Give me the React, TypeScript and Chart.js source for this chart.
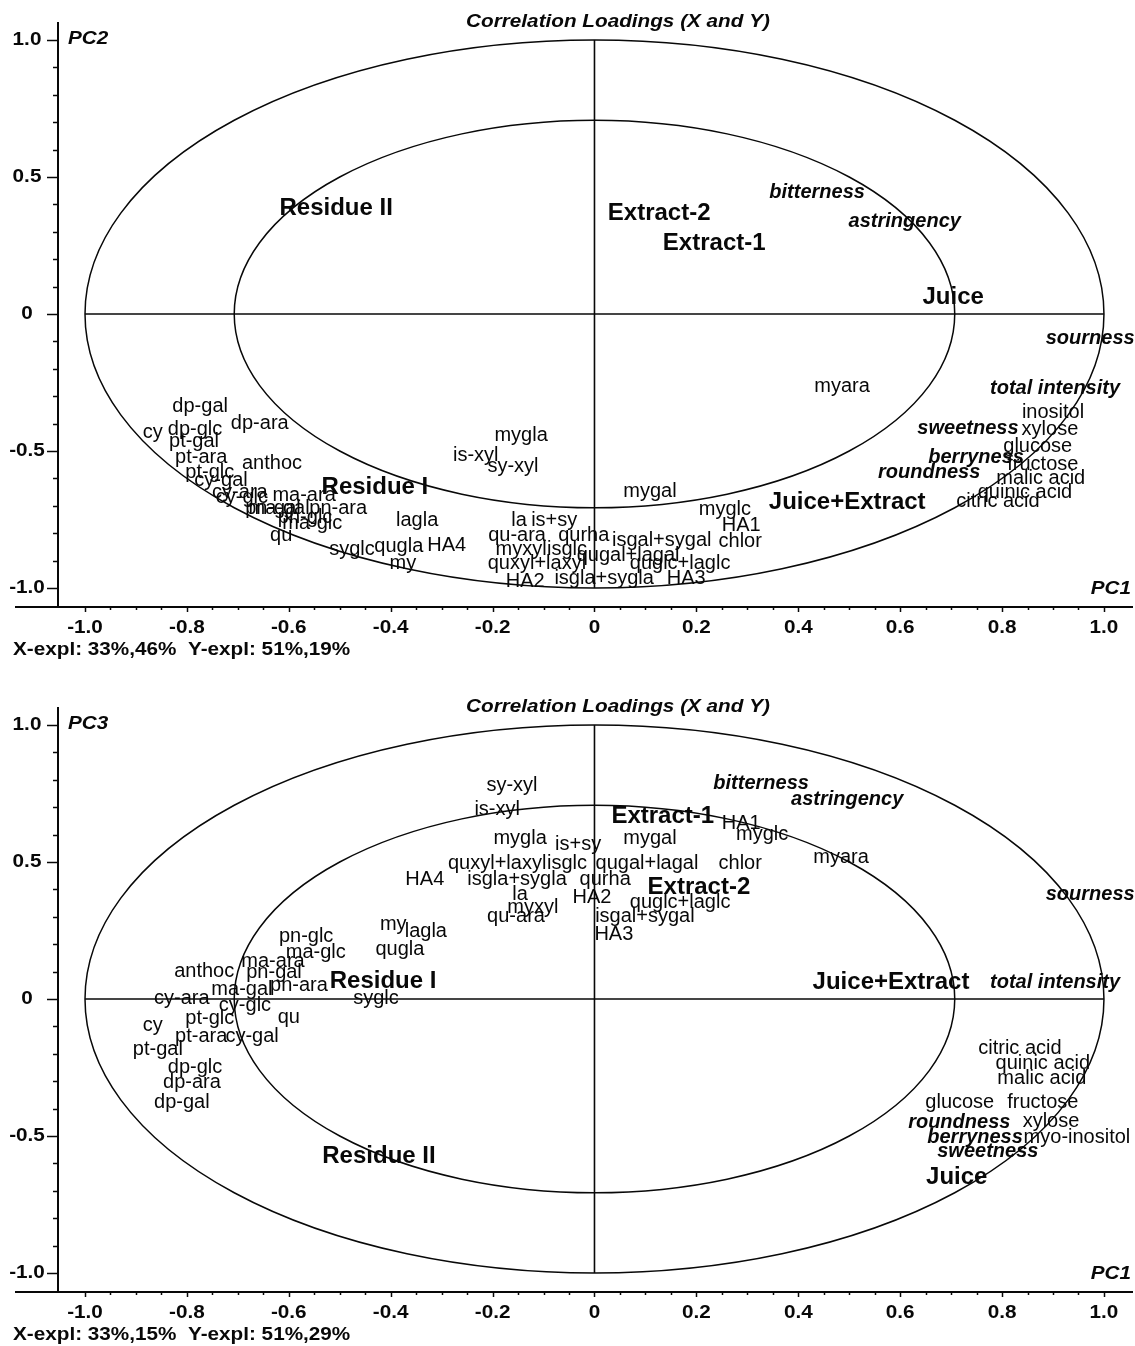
import React, { useEffect, useRef } from "react";
import { Chart, registerables } from "chart.js";

Chart.register(...registerables);

const FONT = '"Liberation Sans", Arial, Helvetica, sans-serif';
const INK = "#080808";

// ---------- Panel 1 (PC1 vs PC2) ----------
const p1VarLabels = [
  "myara", "inositol", "xylose", "glucose", "fructose", "malic acid", "quinic acid", "citric acid",
  "mygla", "is-xyl", "sy-xyl", "mygal", "myglc", "HA1", "chlor", "la", "is+sy", "qu-ara", "qurha",
  "isgal+sygal", "myxyl", "isglc", "qugal+lagal", "quxyl+laxyl", "quglc+laglc", "HA2", "isgla+sygla", "HA3",
  "dp-gal", "dp-ara", "cy", "dp-glc", "pt-gal", "pt-ara", "anthoc", "pt-glc", "cy-gal", "cy-ara", "cy-glc",
  "ma-ara", "pn-gal", "ma-gal", "pn-ara", "pn-glc", "ma-glc", "qu", "lagla", "syglc", "qugla", "HA4", "my",
];
const p1VarX = [
  0.486, 0.900, 0.894, 0.870, 0.880, 0.876, 0.845, 0.792,
  -0.144, -0.233, -0.160, 0.109, 0.256, 0.288, 0.286, -0.148, -0.079, -0.152, -0.021,
  0.132, -0.144, -0.054, 0.066, -0.113, 0.168, -0.136, 0.019, 0.180,
  -0.774, -0.657, -0.867, -0.784, -0.786, -0.772, -0.633, -0.755, -0.733, -0.696, -0.692,
  -0.570, -0.631, -0.619, -0.503, -0.568, -0.554, -0.615, -0.348, -0.476, -0.384, -0.290, -0.376,
];
const p1VarY = [
  -0.263, -0.361, -0.423, -0.485, -0.551, -0.599, -0.650, -0.686,
  -0.445, -0.515, -0.558, -0.646, -0.715, -0.770, -0.832, -0.752, -0.752, -0.810, -0.810,
  -0.828, -0.861, -0.861, -0.880, -0.912, -0.912, -0.978, -0.964, -0.964,
  -0.339, -0.398, -0.434, -0.423, -0.467, -0.522, -0.544, -0.577, -0.606, -0.653, -0.668,
  -0.664, -0.708, -0.708, -0.708, -0.741, -0.766, -0.807, -0.755, -0.861, -0.850, -0.843, -0.909,
];
const p1SensLabels = ["bitterness", "astringency", "sourness", "total intensity", "sweetness", "berryness", "roundness"];
const p1SensX = [0.437, 0.609, 0.973, 0.904, 0.733, 0.749, 0.657];
const p1SensY = [0.445, 0.339, -0.091, -0.270, -0.416, -0.522, -0.577];
const p1SampLabels = ["Residue II", "Extract-2", "Extract-1", "Juice", "Residue I", "Juice+Extract"];
const p1SampX = [-0.507, 0.127, 0.235, 0.704, -0.431, 0.496];
const p1SampY = [0.387, 0.369, 0.259, 0.062, -0.631, -0.686];

// ---------- Panel 2 (PC1 vs PC3) ----------
const p2VarLabels = [
  "citric acid", "quinic acid", "malic acid", "glucose", "fructose", "xylose", "myo-inositol", "myara",
  "sy-xyl", "is-xyl", "mygla", "is+sy", "mygal", "HA1", "myglc", "quxyl+laxyl", "isglc", "qugal+lagal", "chlor",
  "HA4", "isgla+sygla", "qurha", "la", "HA2", "quglc+laglc", "myxyl", "qu-ara", "isgal+sygal", "HA3",
  "lagla", "my", "qugla", "pn-glc", "ma-glc", "anthoc", "ma-ara", "pn-gal", "ma-gal", "pn-ara", "syglc",
  "cy-ara", "cy-glc", "cy", "pt-glc", "qu", "pt-ara", "cy-gal", "pt-gal", "dp-glc", "dp-ara", "dp-gal",
];
const p2VarX = [
  0.835, 0.880, 0.878, 0.717, 0.880, 0.896, 0.947, 0.484,
  -0.162, -0.191, -0.146, -0.032, 0.109, 0.288, 0.329, -0.191, -0.054, 0.103, 0.286,
  -0.333, -0.152, 0.021, -0.146, -0.005, 0.168, -0.121, -0.154, 0.099, 0.038,
  -0.331, -0.395, -0.382, -0.566, -0.547, -0.766, -0.631, -0.629, -0.692, -0.580, -0.429,
  -0.810, -0.686, -0.867, -0.755, -0.600, -0.772, -0.672, -0.857, -0.784, -0.790, -0.810,
];
const p2VarY = [
  -0.180, -0.235, -0.290, -0.377, -0.377, -0.446, -0.505, 0.516,
  0.781, 0.690, 0.585, 0.563, 0.585, 0.640, 0.599, 0.494, 0.494, 0.494, 0.494,
  0.435, 0.435, 0.435, 0.381, 0.370, 0.352, 0.334, 0.301, 0.301, 0.235,
  0.246, 0.271, 0.180, 0.228, 0.170, 0.100, 0.137, 0.097, 0.035, 0.049, 0.002,
  0.002, -0.024, -0.097, -0.071, -0.067, -0.137, -0.137, -0.184, -0.250, -0.304, -0.377,
];
const p2SensLabels = ["bitterness", "astringency", "sourness", "total intensity", "roundness", "berryness", "sweetness"];
const p2SensX = [0.327, 0.496, 0.973, 0.904, 0.716, 0.747, 0.772];
const p2SensY = [0.785, 0.727, 0.381, 0.060, -0.450, -0.505, -0.556];
const p2SampLabels = ["Extract-1", "Extract-2", "Residue I", "Juice+Extract", "Residue II", "Juice"];
const p2SampX = [0.134, 0.205, -0.415, 0.582, -0.423, 0.711];
const p2SampY = [0.665, 0.406, 0.064, 0.060, -0.574, -0.650];

// ---------- axes ----------
const xTickLabels = ["-1.0", "-0.8", "-0.6", "-0.4", "-0.2", "0", "0.2", "0.4", "0.6", "0.8", "1.0"];
const yTickLabels = ["-1.0", "-0.5", "0", "0.5", "1.0"];
const chartTitle = "Correlation Loadings (X and Y)";
const xAxisName = "PC1";
const p1YAxisName = "PC2";
const p2YAxisName = "PC3";
const p1Expl = "X-expl: 33%,46%  Y-expl: 51%,19%";
const p2Expl = "X-expl: 33%,15%  Y-expl: 51%,29%";

const X_MIN = -1.053;
const X_MAX = 1.057;
const Y_MIN = -1.0693;
const Y_MAX = 1.0657;
const STRETCH = 1.09;

function toPts(xs: number[], ys: number[]) {
  return xs.map((x, i) => ({ x, y: ys[i] }));
}

function stretchedText(
  ctx: CanvasRenderingContext2D,
  text: string,
  x: number,
  y: number,
  align: CanvasTextAlign,
) {
  ctx.save();
  ctx.translate(x, y);
  ctx.scale(STRETCH, 1);
  ctx.textAlign = align;
  ctx.fillText(text, 0, 0);
  ctx.restore();
}

const decorPlugin = {
  id: "decor",
  beforeDatasetsDraw(chart: any, _args: any, opts: any) {
    const ctx = chart.ctx as CanvasRenderingContext2D;
    const xs = chart.scales.x;
    const ys = chart.scales.y;
    const ca = chart.chartArea;
    const cx = xs.getPixelForValue(0);
    const cy = ys.getPixelForValue(0);
    ctx.save();
    ctx.strokeStyle = INK;
    ctx.fillStyle = INK;

    // ellipses (radius 1 and sqrt(0.5))
    ctx.lineWidth = 1.5;
    for (const r of [1, Math.SQRT1_2]) {
      const rx = xs.getPixelForValue(r) - cx;
      const ry = cy - ys.getPixelForValue(r);
      ctx.beginPath();
      ctx.ellipse(cx, cy, rx, ry, 0, 0, Math.PI * 2);
      ctx.stroke();
    }
    // centre lines
    ctx.lineWidth = 1.6;
    ctx.beginPath();
    ctx.moveTo(xs.getPixelForValue(-1), cy);
    ctx.lineTo(xs.getPixelForValue(1), cy);
    ctx.moveTo(cx, ys.getPixelForValue(1));
    ctx.lineTo(cx, ys.getPixelForValue(-1));
    ctx.stroke();

    // axes lines
    ctx.lineWidth = 2;
    ctx.beginPath();
    ctx.moveTo(15, ca.bottom);
    ctx.lineTo(ca.right, ca.bottom);
    ctx.moveTo(ca.left, ca.top);
    ctx.lineTo(ca.left, ca.bottom);
    ctx.stroke();

    // x ticks
    ctx.lineWidth = 1.5;
    for (let i = -20; i <= 20; i++) {
      const v = i * 0.05;
      const px = Math.round(xs.getPixelForValue(v)) + 0.5;
      const major = i % 4 === 0;
      ctx.beginPath();
      ctx.moveTo(px, ca.bottom);
      ctx.lineTo(px, ca.bottom + (major ? 5 : 3));
      ctx.stroke();
    }
    // y ticks
    for (let j = -10; j <= 10; j++) {
      const v = j * 0.1;
      const py = Math.round(ys.getPixelForValue(v)) + 0.5;
      const major = j % 5 === 0;
      ctx.beginPath();
      ctx.moveTo(ca.left, py);
      ctx.lineTo(ca.left - (major ? 11 : 5), py);
      ctx.stroke();
    }

    // tick labels
    ctx.font = `bold 19px ${FONT}`;
    ctx.textBaseline = "middle";
    xTickLabels.forEach((t) => {
      stretchedText(ctx, t, xs.getPixelForValue(parseFloat(t)), ca.bottom + 21, "center");
    });
    yTickLabels.forEach((t) => {
      stretchedText(ctx, t, 27, ys.getPixelForValue(parseFloat(t)), "center");
    });

    // title
    ctx.font = `italic bold 19px ${FONT}`;
    stretchedText(ctx, chartTitle, 618, ca.top, "center");
    // axis names
    stretchedText(ctx, opts.yName, 68, ys.getPixelForValue(1) - 1, "left");
    stretchedText(ctx, xAxisName, 1131, ys.getPixelForValue(-1) + 1, "right");
    // explained variance
    ctx.font = `bold 19px ${FONT}`;
    stretchedText(ctx, opts.expl, 13, ca.bottom + 43, "left");
    ctx.restore();
  },
  afterDatasetsDraw(chart: any) {
    const ctx = chart.ctx as CanvasRenderingContext2D;
    ctx.save();
    ctx.fillStyle = INK;
    ctx.textAlign = "center";
    ctx.textBaseline = "middle";
    chart.data.datasets.forEach((ds: any, d: number) => {
      const meta = chart.getDatasetMeta(d);
      ctx.font = ds.labelFont;
      meta.data.forEach((el: any, i: number) => {
        ctx.fillText(ds.labelTexts[i], el.x, el.y);
      });
    });
    ctx.restore();
  },
};

type PanelCfg = {
  varLabels: string[]; varX: number[]; varY: number[];
  sensLabels: string[]; sensX: number[]; sensY: number[];
  sampLabels: string[]; sampX: number[]; sampY: number[];
  yName: string; expl: string;
};

function Panel({ cfg, top, height }: { cfg: PanelCfg; top: number; height: number }) {
  const ref = useRef<HTMLCanvasElement>(null);
  useEffect(() => {
    const chart = new Chart(ref.current as HTMLCanvasElement, {
      type: "scatter",
      data: {
        datasets: [
          {
            data: toPts(cfg.varX, cfg.varY),
            pointRadius: 0,
            labelTexts: cfg.varLabels,
            labelFont: `20px ${FONT}`,
          } as any,
          {
            data: toPts(cfg.sensX, cfg.sensY),
            pointRadius: 0,
            labelTexts: cfg.sensLabels,
            labelFont: `italic bold 20px ${FONT}`,
          } as any,
          {
            data: toPts(cfg.sampX, cfg.sampY),
            pointRadius: 0,
            labelTexts: cfg.sampLabels,
            labelFont: `bold 24px ${FONT}`,
          } as any,
        ],
      },
      options: {
        responsive: false,
        animation: false,
        events: [],
        layout: { padding: { left: 58, right: 2, top: 22, bottom: height - 607 } },
        plugins: {
          legend: { display: false },
          tooltip: { enabled: false },
          decor: { yName: cfg.yName, expl: cfg.expl },
        } as any,
        scales: {
          x: { type: "linear", min: X_MIN, max: X_MAX, display: false },
          y: { type: "linear", min: Y_MIN, max: Y_MAX, display: false },
        },
      },
      plugins: [decorPlugin],
    });
    return () => chart.destroy();
  }, []);
  return (
    <canvas
      ref={ref}
      width={1135}
      height={height}
      style={{ position: "absolute", left: 0, top, width: 1135, height }}
    />
  );
}

const panel1: PanelCfg = {
  varLabels: p1VarLabels, varX: p1VarX, varY: p1VarY,
  sensLabels: p1SensLabels, sensX: p1SensX, sensY: p1SensY,
  sampLabels: p1SampLabels, sampX: p1SampX, sampY: p1SampY,
  yName: p1YAxisName, expl: p1Expl,
};
const panel2: PanelCfg = {
  varLabels: p2VarLabels, varX: p2VarX, varY: p2VarY,
  sensLabels: p2SensLabels, sensX: p2SensX, sensY: p2SensY,
  sampLabels: p2SampLabels, sampX: p2SampX, sampY: p2SampY,
  yName: p2YAxisName, expl: p2Expl,
};

export default function App() {
  return (
    <div style={{ position: "absolute", left: 0, top: 0, width: 1135, height: 1346, background: "#fff" }}>
      <Panel cfg={panel1} top={0} height={685} />
      <Panel cfg={panel2} top={685} height={661} />
    </div>
  );
}
